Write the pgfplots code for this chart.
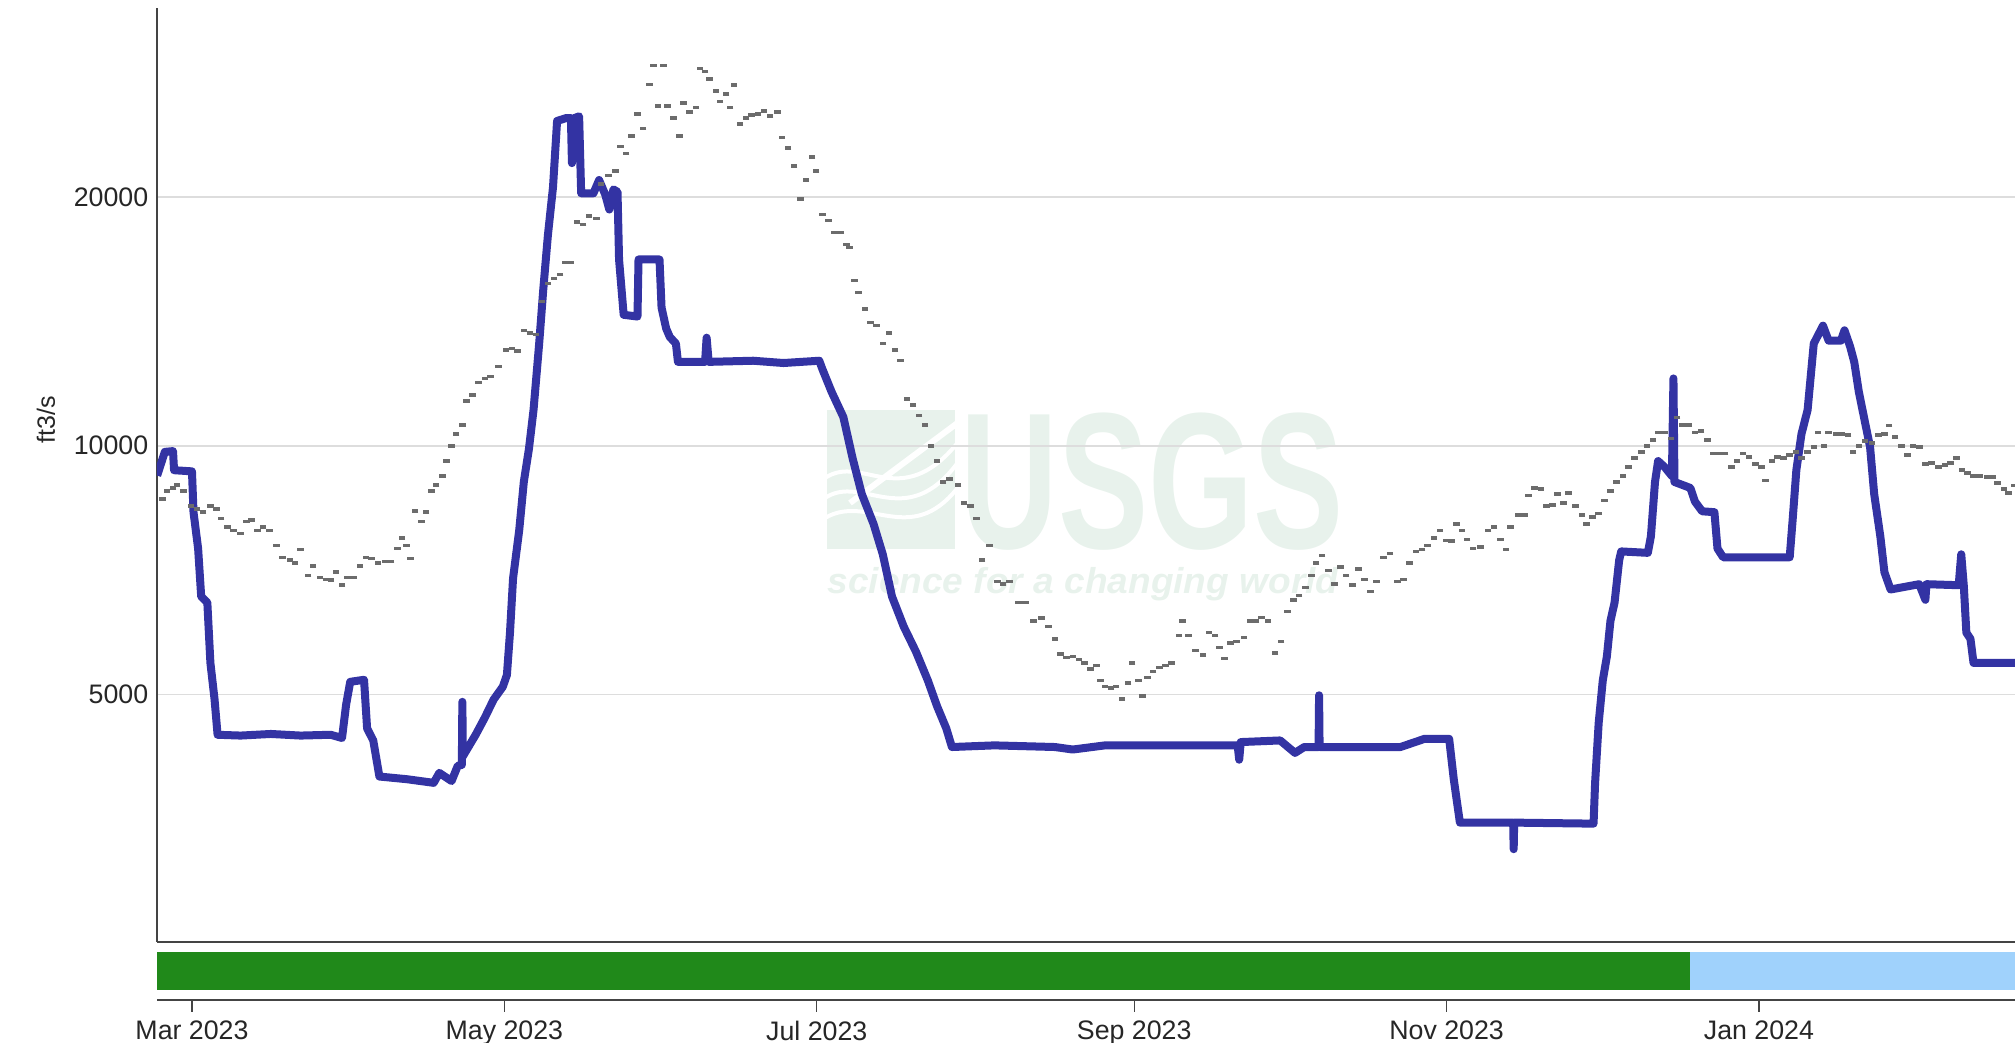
\documentclass[border=0pt]{standalone}
\usepackage{fontspec}
\setmainfont{Liberation Sans}
\usepackage{pgfplots}
\pgfplotsset{compat=1.18}

\definecolor{flowblue}{RGB}{51,51,163}
\definecolor{medgray}{RGB}{108,108,108}
\definecolor{gridgray}{RGB}{221,221,221}
\definecolor{axisgray}{RGB}{68,68,68}
\definecolor{approved}{RGB}{32,137,26}
\definecolor{provisional}{RGB}{160,210,252}
\definecolor{wmark}{RGB}{232,242,236}

% x = days since 1 Mar 2023
\pgfplotstableread{
day q
-6.8 9200
-5.3 9830
-3.7 9850
-3.5 9340
0.0 9310
0.3 8310
1.2 7510
1.8 6570
3.0 6460
3.6 5460
4.4 4940
5.0 4470
9.5 4460
15.4 4480
21.2 4460
27.1 4470
29.3 4430
30.1 4860
30.9 5180
33.6 5210
34.2 4550
35.4 4400
36.6 3980
42.0 3950
47.2 3910
48.3 4020
50.7 3930
51.9 4100
52.7 4110
52.8 4900
52.9 4210
55.4 4470
57.2 4690
58.9 4930
60.7 5110
61.5 5280
62.1 5940
62.7 6910
63.9 7900
64.8 9040
65.8 9910
66.7 11050
67.8 13290
68.6 15450
69.5 17960
70.5 20540
71.3 24710
73.1 24910
74.0 24910
74.2 21970
74.7 24910
75.6 25030
76.0 20200
78.4 20200
79.5 20960
80.7 20130
81.5 19310
82.3 20420
83.1 20280
83.4 16800
84.3 14400
87.0 14330
87.2 16800
91.3 16800
91.7 14690
92.6 13860
93.3 13540
94.5 13290
94.9 12630
100.2 12630
100.5 13510
100.9 12630
109.6 12670
115.5 12590
122.5 12670
123.1 12380
124.9 11620
127.2 10830
129.0 9660
130.8 8740
133.1 8040
134.9 7390
136.7 6570
139.0 6040
141.4 5630
143.7 5200
145.5 4840
147.3 4550
148.4 4320
156.7 4340
168.5 4320
172.0 4290
178.3 4340
204.2 4340
204.5 4170
204.8 4380
212.5 4400
215.4 4250
217.2 4320
220.0 4320
220.1 4990
220.2 4320
236.0 4320
240.7 4420
245.5 4420
246.4 3950
247.6 3500
254.9 3500
258.0 3500
258.1 3250
258.2 3500
273.7 3490
274.0 3910
274.7 4620
275.5 5200
276.3 5560
277.0 6140
277.8 6460
278.7 7270
279.1 7450
284.3 7420
284.9 7770
285.7 9040
286.3 9580
287.6 9420
289.0 9190
289.3 12060
289.5 9040
292.6 8890
293.5 8560
294.9 8330
297.3 8310
297.9 7510
299.0 7330
312.0 7330
312.6 8170
313.3 9340
314.3 10330
315.5 11050
316.7 13290
318.5 13970
319.6 13400
322.0 13400
322.7 13790
323.8 13180
324.6 12630
325.5 11620
326.7 10680
327.7 9960
328.5 8740
329.7 7770
330.5 7030
331.7 6700
337.3 6800
338.5 6510
338.7 6800
345.0 6780
345.5 7390
346.0 6770
346.5 5940
347.3 5840
347.9 5460
356.0 5460
}\discharge

% daily median
\pgfplotstableread{
day q
-5.8 8620
-4.9 8820
-3.7 8890
-2.9 8960
-1.7 8820
-0.2 8450
1.0 8380
2.2 8310
3.6 8450
4.8 8380
5.7 8170
6.9 7970
8.1 7900
9.5 7830
10.6 8100
11.6 8130
12.8 7900
13.9 7970
15.1 7900
16.5 7570
17.7 7330
19.1 7270
20.1 7210
21.2 7490
22.7 6970
23.6 7150
25.0 6930
26.2 6890
27.1 6880
28.1 7030
29.3 6780
30.4 6930
31.6 6930
32.8 7150
34.0 7330
35.1 7300
36.3 7210
37.7 7240
38.9 7240
40.1 7510
41.0 7730
41.9 7570
42.7 7300
43.6 8340
44.8 8100
45.7 8310
46.8 8820
47.7 8960
48.9 9190
49.7 9580
50.7 9990
51.6 10330
52.8 10600
53.6 11330
54.8 11520
56.0 11920
57.2 12060
58.3 12120
59.9 12460
61.3 13060
62.5 13110
63.6 13020
64.8 13790
66.0 13690
67.2 13630
68.4 14940
69.5 15710
70.7 15930
71.9 16110
72.8 16660
73.9 16660
75.2 18640
76.4 18520
77.5 18950
79.0 18830
79.9 20720
81.3 21240
82.7 21490
83.7 23000
84.8 22570
85.8 23700
87.0 25200
88.1 24190
89.3 27360
90.1 28820
91.0 25770
92.1 28820
92.9 25770
94.0 24910
95.2 23700
96.0 25980
97.2 25330
98.4 25640
99.2 28580
100.2 28340
101.1 27780
102.3 26870
103.1 26070
104.3 26650
105.1 25640
105.8 27320
107.0 24500
108.2 24910
109.3 25120
110.5 25200
111.7 25420
112.9 25040
114.3 25330
115.2 23580
116.4 22920
117.6 21790
118.8 19870
119.9 20960
121.1 22340
121.9 21490
123.1 19050
124.3 18740
125.5 18110
126.7 18110
127.8 17520
128.4 17370
129.4 15840
130.2 15320
131.4 14640
132.5 14090
133.7 13970
134.9 13290
136.1 13690
137.3 13060
138.4 12670
139.6 11390
140.8 11200
142.0 10870
143.1 10600
144.3 9990
145.5 9580
146.7 9040
147.9 9110
149.6 8960
150.8 8520
152.0 8450
153.2 8170
154.3 7270
155.7 7570
157.3 6850
158.4 6800
159.6 6850
161.4 6460
162.8 6460
164.3 6140
165.9 6190
167.3 6040
168.5 5840
169.6 5600
170.8 5540
172.0 5560
173.2 5510
174.3 5460
175.5 5370
176.6 5420
177.4 5200
178.3 5110
179.5 5090
180.4 5110
181.6 4940
182.8 5160
183.6 5460
184.8 5200
185.6 4980
186.6 5240
187.7 5330
188.9 5390
190.1 5420
191.3 5460
192.7 5890
193.4 6140
194.6 5890
196.0 5650
197.4 5580
198.6 5940
199.8 5890
200.7 5700
201.6 5530
202.8 5770
204.0 5800
205.4 5860
206.6 6140
207.8 6140
208.9 6200
210.1 6140
211.5 5610
212.7 5800
213.9 6300
215.1 6510
216.2 6590
217.4 6740
218.6 6970
219.5 7210
220.7 7370
221.9 7060
223.1 6800
224.3 7130
225.4 6970
226.6 6780
227.8 7090
229.0 6890
230.1 6660
231.3 6850
232.7 7330
233.9 7410
235.4 6850
236.6 6890
237.8 7210
239.0 7450
240.2 7490
241.3 7570
242.5 7730
243.7 7900
244.9 7680
246.0 7670
246.9 8040
248.0 7900
249.0 7700
250.2 7510
251.6 7540
253.1 7900
254.3 7970
255.5 7700
256.6 7490
257.5 7970
259.0 8240
260.2 8240
261.0 8710
262.2 8890
263.4 8860
264.5 8450
265.7 8480
266.7 8740
267.8 8520
268.8 8770
270.2 8450
271.4 8240
272.3 8040
273.5 8200
274.7 8280
275.8 8590
277.0 8820
278.2 9040
279.4 9190
280.5 9420
281.7 9660
283.1 9830
284.1 9990
285.3 10160
286.4 10370
287.6 10370
288.8 10200
290.0 10820
291.1 10600
292.3 10600
293.5 10370
294.7 10420
295.9 10160
297.0 9790
298.2 9790
299.4 9790
300.6 9420
301.7 9580
302.9 9790
304.1 9690
305.3 9500
306.5 9420
307.3 9070
308.5 9580
309.6 9690
310.8 9660
312.0 9740
313.2 9830
314.3 9660
315.5 9830
316.7 9960
317.5 10370
318.7 9990
319.6 10370
321.1 10330
322.2 10330
323.4 10300
324.4 9830
325.5 9990
326.7 10130
328.1 10080
329.3 10300
330.5 10330
331.4 10580
332.6 10250
333.8 9990
335.0 9740
336.1 9990
337.3 9960
338.5 9500
339.7 9530
341.1 9420
342.3 9470
343.4 9530
344.6 9660
345.6 9340
346.7 9270
347.9 9190
349.1 9190
350.5 9160
351.7 9160
352.6 9010
353.8 8860
354.7 8770
355.9 8950
}\median

\begin{document}
\begin{tikzpicture}
\path[use as bounding box] (0pt,0pt) rectangle (806pt,417.2pt);

% USGS watermark behind the plot
\begin{scope}
  \fill[wmark] (330.8pt,197.6pt) rectangle (382pt,253.2pt);
  \clip (330.8pt,197.6pt) rectangle (382pt,253.2pt);
  \draw[white, line width=1.6pt] (330pt,226pt) .. controls (345pt,236pt) and (360pt,212pt) .. (383pt,240pt);
  \draw[white, line width=1.6pt] (330pt,218pt) .. controls (345pt,228pt) and (362pt,204pt) .. (383pt,232pt);
  \draw[white, line width=1.6pt] (330pt,210pt) .. controls (347pt,220pt) and (364pt,198pt) .. (383pt,222pt);
  \draw[white, line width=2.4pt] (383pt,248pt) -- (340pt,216pt);
\end{scope}
\node[anchor=base west, inner sep=0pt, text=wmark,
      font=\fontsize{77.7}{80}\selectfont\bfseries] at (384pt,197.6pt)
      {\scalebox{0.696}[1]{USGS}};
\node[anchor=base west, inner sep=0pt, text=wmark,
      font=\fontsize{14.4}{16}\selectfont\bfseries\itshape] at (330.8pt,179.8pt)
      {\scalebox{1.03}[1]{science for a changing world}};

\begin{axis}[
  at={(62.8pt,40.4pt)}, anchor=south west,
  width=743.2pt, height=373.6pt, scale only axis,
  xmin=-6.83, xmax=356.0,
  ymode=log, ymin=2510, ymax=33850,
  axis lines*=left,
  axis line style={axisgray, line width=0.6pt},
  xtick=\empty,
  ytick={5000,10000,20000},
  yticklabels={5000,10000,20000},
  yminorticks=false,
  major tick length=0pt,
  ymajorgrids,
  major grid style={gridgray, line width=0.7pt},
  yticklabel style={font=\fontsize{10.7}{12}\selectfont, text=black!85},
  ylabel={ft3/s},
  ylabel style={font=\fontsize{10}{12}\selectfont, text=black!85,
                at={(axis description cs:-0.0598,0.559)}, anchor=center},
]
\addplot[only marks, mark=-, mark size=1.3pt, medgray,
         mark options={line width=1.4pt, medgray}] table[x=day, y=q] {\median};
\addplot[flowblue, line width=3.2pt, line join=round, no marks] table[x=day, y=q] {\discharge};
\end{axis}

% approval status strip and date axis
\begin{axis}[
  at={(62.8pt,17.2pt)}, anchor=south west,
  width=743.2pt, height=23.2pt, scale only axis,
  xmin=-6.83, xmax=356.0, ymin=0, ymax=1,
  axis x line*=bottom, axis y line=none,
  axis line style={axisgray, line width=0.6pt},
  xtick={0,61,122,184,245,306},
  xticklabels={Mar 2023,May 2023,Jul 2023,Sep 2023,Nov 2023,Jan 2024},
  xtick align=outside, major tick length=4.8pt,
  tick style={axisgray, line width=0.5pt},
  xticklabel style={font=\fontsize{10.7}{12}\selectfont, text=black!85},
  ytick=\empty,
]
\addplot[fill=approved, draw=none] coordinates {(-6.83,0.172) (292.5,0.172) (292.5,0.828) (-6.83,0.828)} -- cycle;
\addplot[fill=provisional, draw=none] coordinates {(292.5,0.172) (356,0.172) (356,0.828) (292.5,0.828)} -- cycle;
\end{axis}
\end{tikzpicture}
\end{document}
